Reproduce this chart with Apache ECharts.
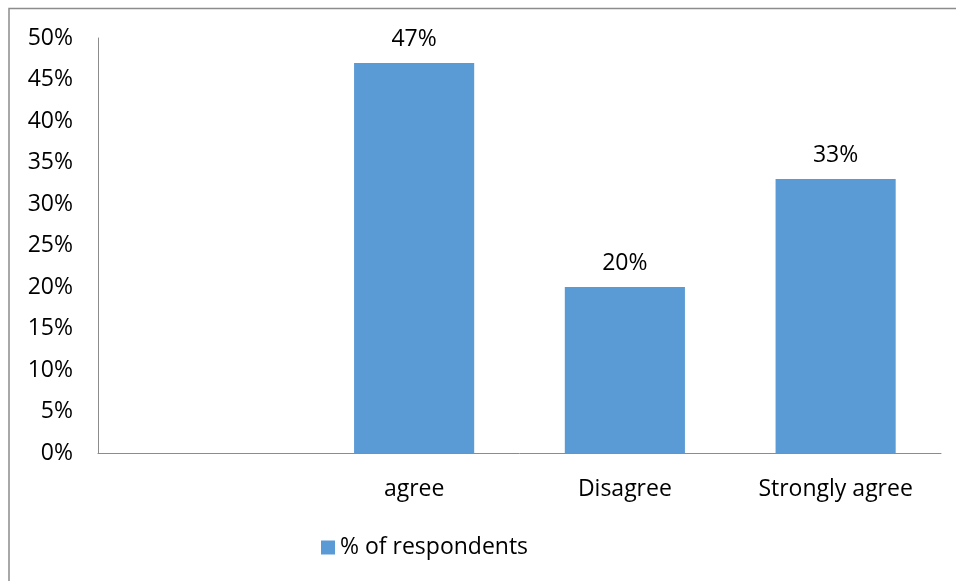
<!DOCTYPE html>
<html><head><meta charset="utf-8">
<script src="https://cdn.jsdelivr.net/npm/echarts@6/dist/echarts.min.js"></script>
<style>html,body{margin:0;padding:0;background:#fff}#c{width:956px;height:581px}</style>
</head><body><div id="c"></div>
<script>
const categories = ['', 'agree', 'Disagree', 'Strongly agree'];
const values = [null, 47, 20, 33];
const seriesName = '% of respondents';
const yTicks = [0, 5, 10, 15, 20, 25, 30, 35, 40, 45, 50];

const chart = echarts.init(document.getElementById('c'));
const font = '"Open Sans", Lato, sans-serif';
const fs = 23;
chart.setOption({
  animation: false,
  textStyle: {fontFamily: font},
  graphic: [{
    type: 'polyline', silent: true,
    shape: {points: [[9, 590], [9, 8.5], [960, 8.5]]},
    style: {stroke: '#8c8c8c', lineWidth: 1.5, fill: null}
  }],
  grid: {left: 98, top: 38, right: 15, bottom: 128, containLabel: false},
  legend: {
    data: [seriesName], left: 316, top: 531, itemWidth: 14, itemHeight: 14, itemGap: 6,
    icon: 'rect',
    textStyle: {fontSize: fs, color: '#000', fontFamily: font}
  },
  xAxis: {
    type: 'category', data: categories,
    axisLine: {lineStyle: {color: '#8c8c8c', width: 1}},
    axisTick: {show: false},
    axisLabel: {fontSize: fs, color: '#000', margin: 25, fontFamily: font}
  },
  yAxis: {
    type: 'value', min: yTicks[0], max: yTicks[yTicks.length - 1], interval: 5,
    splitLine: {show: false},
    axisLine: {show: true, lineStyle: {color: '#8c8c8c', width: 1}},
    axisTick: {show: false},
    axisLabel: {fontSize: fs, color: '#000', margin: 25, formatter: v => v + '%', fontFamily: font}
  },
  series: [{
    name: seriesName, type: 'bar', data: values, barWidth: '57%',
    itemStyle: {color: '#5b9bd5'},
    label: {show: true, position: 'top', distance: 12, fontSize: fs, color: '#000',
      formatter: p => p.value + '%', fontFamily: font}
  }]
});
</script></body></html>
